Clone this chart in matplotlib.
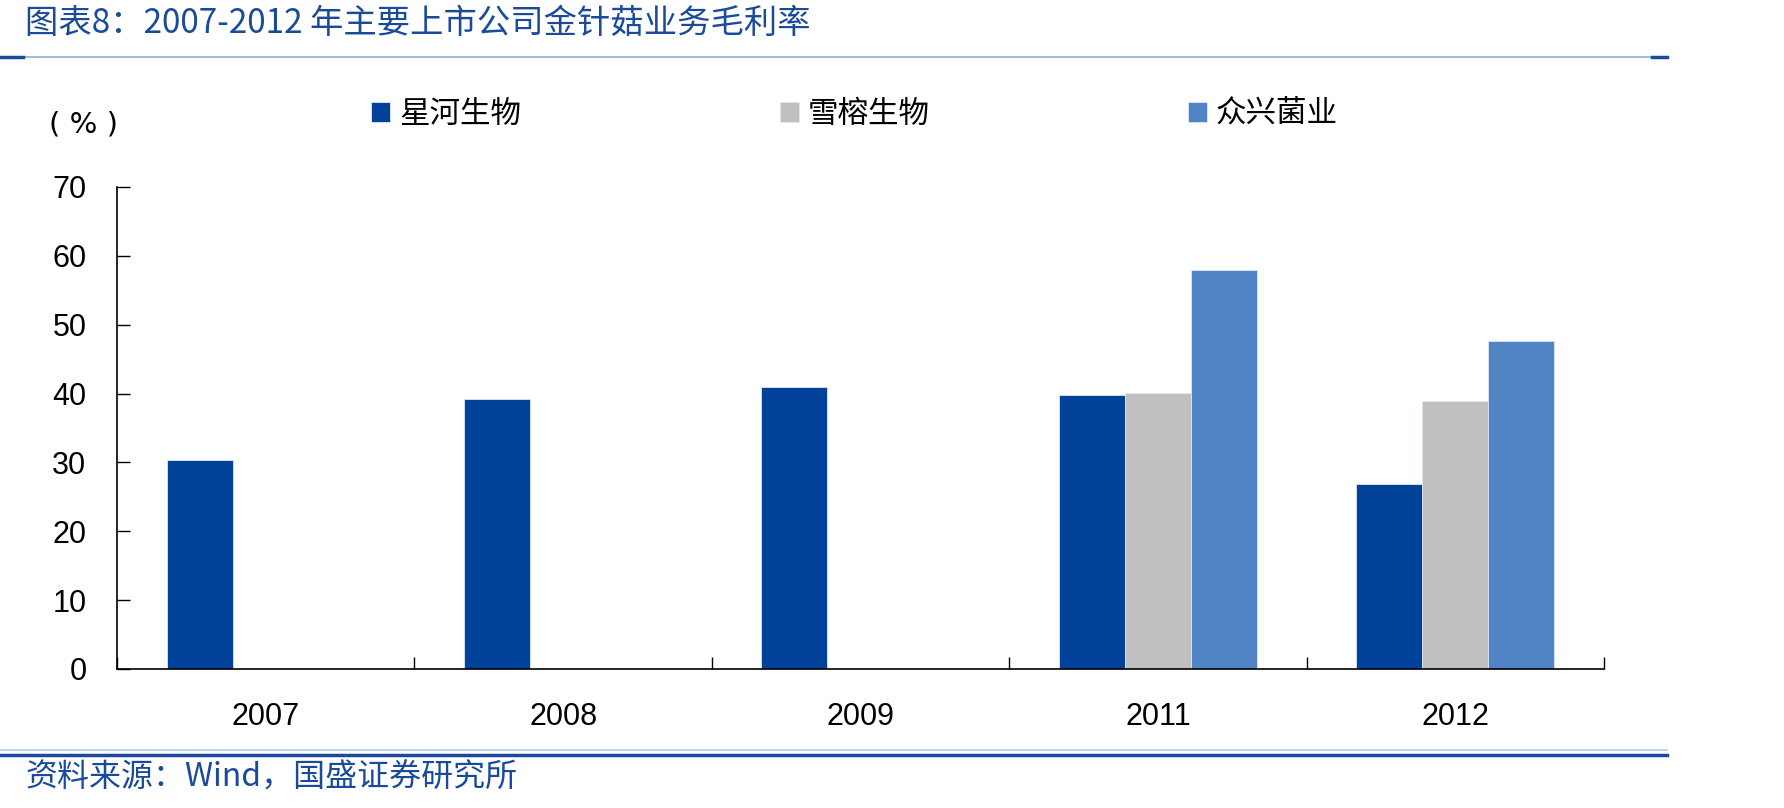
import numpy as np
import matplotlib
matplotlib.use("Agg")
import matplotlib.pyplot as plt
from matplotlib.lines import Line2D

plt.rcParams['font.family'] = ['Noto Sans CJK SC', 'DejaVu Sans']

years = ["2007", "2008", "2009", "2011", "2012"]
series_names = ["星河生物", "雪榕生物", "众兴菌业"]
xinghe = [30.3, 39.2, 41.0, 39.8, 26.8]
xuerong = [np.nan, np.nan, np.nan, 40.1, 38.9]
zhongxing = [np.nan, np.nan, np.nan, 57.9, 47.7]
yticks = [0, 10, 20, 30, 40, 50, 60, 70]

colors = ["#00419A", "#C0C0C0", "#5084C4"]
title_blue = "#1A4B9B"

W, H = 1784, 808
fig = plt.figure(figsize=(W / 100, H / 100), dpi=100)
ax = fig.add_axes([117 / W, 1 - 669 / H, (1604 - 117) / W, (669 - 187) / H])

x = np.arange(len(years))
width = 0.222
for i, (vals, name) in enumerate(zip([xinghe, xuerong, zhongxing], series_names)):
    ax.bar(x + (i - 1) * width, vals, width, color=colors[i], label=name,
           edgecolor="#dfe8f5", linewidth=0.6)

ax.set_xlim(-0.5, len(years) - 0.5)
ax.set_ylim(0, 70)
ax.set_yticks(yticks)
ax.set_yticklabels([str(v) for v in yticks], family="Liberation Sans", fontsize=22)
ax.tick_params(axis="y", direction="in", length=9, width=1, pad=22)

# category boundary ticks, labels centered on categories
ax.set_xticks(np.arange(len(years) + 1) - 0.5)
ax.set_xticklabels([])
ax.set_xticks(x, minor=True)
ax.set_xticklabels(years, minor=True, family="Liberation Sans", fontsize=22)
ax.tick_params(axis="x", which="major", direction="in", length=9, width=1)
ax.tick_params(axis="x", which="minor", length=0, pad=24)

for s in ["top", "right"]:
    ax.spines[s].set_visible(False)
for s in ["left", "bottom"]:
    ax.spines[s].set_linewidth(1.2)

fig.text(49 / W, 1 - 125 / H, "( % )", fontsize=21, family="DejaVu Sans",
         va="center", ha="left")

fig.legend(loc="center left", bbox_to_anchor=(356 / W, 1 - 114 / H), ncol=3,
           frameon=False, fontsize=22, handlelength=0.62, handleheight=0.62,
           handletextpad=0.3, columnspacing=8.45, borderpad=0)

# title and decoration lines
fig.text(25 / W, 1 - 23 / H, "图表8：2007-2012 年主要上市公司金针菇业务毛利率",
         fontsize=24, color=title_blue, va="center", ha="left")
fig.add_artist(Line2D([0, 1667 / W], [1 - 57 / H] * 2, color="#8EADD4", lw=1.2))
fig.add_artist(Line2D([0, 23 / W], [1 - 57 / H] * 2, color="#1A4B9B", lw=2.5))
fig.add_artist(Line2D([1652 / W, 1667 / W], [1 - 57 / H] * 2, color="#1A4B9B", lw=2.5))

fig.add_artist(Line2D([0, 1667 / W], [1 - 750 / H] * 2, color="#B8C8E0", lw=1.2))
fig.add_artist(Line2D([0, 1667 / W], [1 - 755 / H] * 2, color="#1A4B9B", lw=2.5))
fig.text(25 / W, 1 - 778 / H, "资料来源：Wind，国盛证券研究所",
         fontsize=23, color=title_blue, va="center", ha="left")

fig.savefig("out.png", dpi=100)
